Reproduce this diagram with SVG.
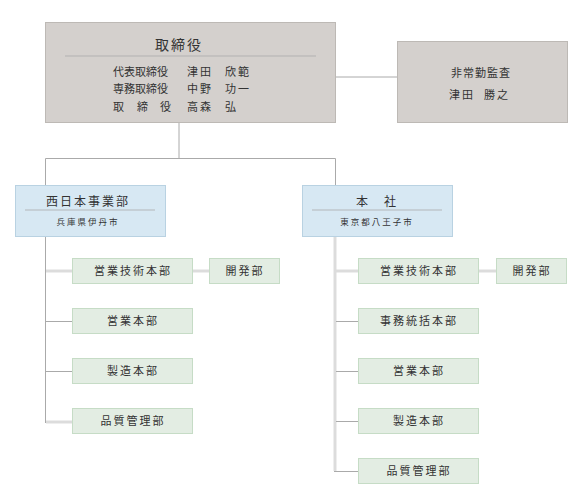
<svg xmlns="http://www.w3.org/2000/svg" width="580" height="500" viewBox="0 0 580 500">
<style>
text{font-family:"Noto Sans CJK JP","Noto Sans",sans-serif;fill:#333;}
.gray{fill:#d4d0cd;stroke:#bdb9b5;stroke-width:1;}
.blue{fill:#d7e8f3;stroke:#b9d2e2;stroke-width:1;}
.green{fill:#e3ede3;stroke:#c6dcc6;stroke-width:1;}
.sep{stroke:#a9a9a9;stroke-width:0.8;}
.thin{stroke:#aaaaaa;stroke-width:1;fill:none;}
.thick{stroke:#dcdcdc;stroke-width:3;fill:none;}
.sub{font-size:11px;letter-spacing:2px;text-anchor:middle;}
.ttl{font-size:12px;letter-spacing:2px;text-anchor:middle;}
.loc{font-size:8.5px;letter-spacing:2px;text-anchor:middle;}
.bd{font-size:11px;}
</style>
<g id="connectors">
<line class="thin" x1="335" y1="77" x2="397" y2="77"/>
<line class="thin" x1="179" y1="122" x2="179" y2="158"/>
<polyline class="thin" points="45.5,185 45.5,158.5 335.5,158.5 335.5,185"/>
<line class="thin" x1="45.5" y1="236" x2="45.5" y2="423"/>
<line class="thick" x1="46" y1="271" x2="72" y2="271"/>
<line class="thick" x1="192" y1="271" x2="209" y2="271"/>
<line class="thin" x1="45" y1="321.5" x2="72" y2="321.5"/>
<line class="thin" x1="45" y1="371.5" x2="72" y2="371.5"/>
<line class="thick" x1="46" y1="422" x2="72" y2="422"/>
<line class="thick" x1="335" y1="236" x2="335" y2="471"/>
<line class="thick" x1="336" y1="271" x2="358" y2="271"/>
<line class="thick" x1="478" y1="271" x2="496" y2="271"/>
<line class="thin" x1="336" y1="321.5" x2="358" y2="321.5"/>
<line class="thin" x1="336" y1="371.5" x2="358" y2="371.5"/>
<line class="thin" x1="336" y1="421.5" x2="358" y2="421.5"/>
<line class="thin" x1="334" y1="471.5" x2="358" y2="471.5"/>
</g>
<g id="board">
<rect class="gray" x="45.5" y="22.5" width="290" height="100"/>
<text x="179" y="50" font-size="14" letter-spacing="2" text-anchor="middle">取締役</text>
<line class="sep" x1="65" y1="56" x2="316" y2="56"/>
<text class="bd" x="113" y="76">代表取締役</text><text class="bd" x="187" y="76" letter-spacing="2">津田</text><text class="bd" x="225" y="76" letter-spacing="2">欣範</text>
<text class="bd" x="113" y="93">専務取締役</text><text class="bd" x="187" y="93" letter-spacing="2">中野</text><text class="bd" x="225" y="93" letter-spacing="2">功一</text>
<text class="bd" x="113" y="111">取</text><text class="bd" x="137" y="111">締</text><text class="bd" x="160" y="111">役</text><text class="bd" x="187" y="111" letter-spacing="2">高森</text><text class="bd" x="225" y="111">弘</text>
</g>
<g id="auditor">
<rect class="gray" x="397.5" y="41.5" width="170" height="81"/>
<text class="bd" x="481" y="77" text-anchor="middle" letter-spacing="1">非常勤監査</text>
<text class="bd" x="449" y="99" letter-spacing="2">津田</text><text class="bd" x="484" y="99" letter-spacing="2">勝之</text>
</g>
<g id="west">
<rect class="blue" x="15.5" y="185.5" width="150" height="51"/>
<text class="ttl" x="88" y="206">西日本事業部</text>
<line class="sep" x1="25" y1="210" x2="155" y2="210"/>
<text class="loc" x="88" y="225">兵庫県伊丹市</text>
</g>
<g id="west-eigyogijutsu"><rect class="green" x="72.5" y="258.5" width="120" height="25"/><text class="sub" x="133" y="275">営業技術本部</text></g>
<g id="west-kaihatsu"><rect class="green" x="209.5" y="258.5" width="70" height="25"/><text class="sub" x="245" y="275">開発部</text></g>
<g id="west-eigyo"><rect class="green" x="72.5" y="308.5" width="120" height="25"/><text class="sub" x="133" y="325">営業本部</text></g>
<g id="west-seizo"><rect class="green" x="72.5" y="358.5" width="120" height="25"/><text class="sub" x="133" y="375">製造本部</text></g>
<g id="west-hinshitsu"><rect class="green" x="72.5" y="408.5" width="120" height="25"/><text class="sub" x="133" y="425">品質管理部</text></g>
<g id="hq">
<rect class="blue" x="302.5" y="185.5" width="150" height="51"/>
<text class="ttl" x="377" y="206" xml:space="preserve">本　社</text>
<line class="sep" x1="312" y1="210" x2="442" y2="210"/>
<text class="loc" x="377" y="225">東京都八王子市</text>
</g>
<g id="hq-eigyogijutsu"><rect class="green" x="358.5" y="258.5" width="120" height="25"/><text class="sub" x="419" y="275">営業技術本部</text></g>
<g id="hq-kaihatsu"><rect class="green" x="496.5" y="258.5" width="70" height="25"/><text class="sub" x="532" y="275">開発部</text></g>
<g id="hq-jimu"><rect class="green" x="358.5" y="308.5" width="120" height="25"/><text class="sub" x="419" y="325">事務統括本部</text></g>
<g id="hq-eigyo"><rect class="green" x="358.5" y="358.5" width="120" height="25"/><text class="sub" x="419" y="375">営業本部</text></g>
<g id="hq-seizo"><rect class="green" x="358.5" y="408.5" width="120" height="25"/><text class="sub" x="419" y="425">製造本部</text></g>
<g id="hq-hinshitsu"><rect class="green" x="358.5" y="458.5" width="120" height="25"/><text class="sub" x="419" y="475">品質管理部</text></g>
</svg>
